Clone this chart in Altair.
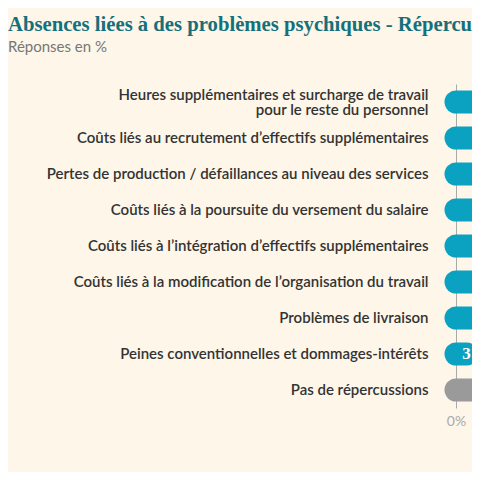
import altair as alt
import pandas as pd

categories = [
    "Heures supplémentaires et surcharge de travail|pour le reste du personnel",
    "Coûts liés au recrutement d’effectifs supplémentaires",
    "Pertes de production / défaillances au niveau des services",
    "Coûts liés à la poursuite du versement du salaire",
    "Coûts liés à l’intégration d’effectifs supplémentaires",
    "Coûts liés à la modification de l’organisation du travail",
    "Problèmes de livraison",
    "Peines conventionnelles et dommages-intérêts",
    "Pas de répercussions",
]
values = [62, 38, 36, 33, 29, 27, 14, 3, 6]
groups = ["impact"] * 8 + ["none"]

df = pd.DataFrame({"label": categories, "value": values, "group": groups})

BG = "#fdf6e9"
PX_PER_UNIT = 3.5
LEFT_PAD = 436
PLOT_W = 28
ZERO_OFFSET = 12

x_scale = alt.Scale(
    domain=[-ZERO_OFFSET / PX_PER_UNIT, (PLOT_W - ZERO_OFFSET) / PX_PER_UNIT],
    nice=False,
    zero=False,
)

y_enc = alt.Y(
    "label:N",
    sort=categories,
    scale=alt.Scale(paddingInner=0, paddingOuter=0),
    axis=alt.Axis(
        title=None,
        labelExpr="split(datum.label, '|')",
        labelFont="Lato",
        labelFontSize=15,
        labelFontWeight=600,
        labelColor="#333333",
        labelPadding=16,
        labelLineHeight=15,
        labelLimit=600,
        labelOffset={"condition": {"test": "indexof(datum.value, '|') >= 0", "value": -7.5}, "value": 0},
        ticks=False,
        domain=False,
    ),
)

bars = alt.Chart(df).mark_rule(strokeWidth=23, strokeCap="round", clip=True).encode(
    y=y_enc,
    x=alt.X(
        "value:Q",
        scale=x_scale,
        axis=alt.Axis(
            title=None,
            values=[0],
            labelExpr="datum.value + '%'",
            grid=True,
            gridColor="#aaaaaa",
            gridWidth=1,
            ticks=False,
            domain=False,
            labelFont="Lato",
            labelFontSize=14,
            labelColor="#aaaaaa",
            labelPadding=6,
        ),
    ),
    x2=alt.datum(0),
    color=alt.Color(
        "group:N",
        scale=alt.Scale(domain=["impact", "none"], range=["#0aa2c0", "#9a9a9a"]),
        legend=None,
    ),
)

labels = alt.Chart(df).mark_text(
    font="Liberation Serif",
    fontWeight="bold",
    fontSize=17,
    color="white",
    align="center",
    baseline="middle",
    clip=True,
).encode(
    y=alt.Y("label:N", sort=categories),
    x=alt.X("value:Q", scale=x_scale),
    text=alt.Text("value:Q"),
)

chart = (
    alt.layer(bars, labels)
    .properties(
        width=PLOT_W,
        height=324,
        background=BG,
        padding={"left": LEFT_PAD, "top": 76, "right": 0, "bottom": 64},
        autosize=alt.AutoSizeParams(type="none"),
        title=alt.TitleParams(
            text="Absences liées à des problèmes psychiques - Répercussions",
            subtitle="Réponses en %",
            anchor="start",
            frame="group",
            dx=-LEFT_PAD,
            offset=28,
            font="Liberation Serif",
            fontSize=20.7,
            fontWeight="bold",
            color="#14707b",
            subtitleFont="Lato",
            subtitleFontSize=15,
            subtitleColor="#777777",
            subtitlePadding=4,
        ),
    )
    .configure_view(stroke=None)
)

chart.save("out.html", embed_options={"renderer": "svg", "actions": False})
